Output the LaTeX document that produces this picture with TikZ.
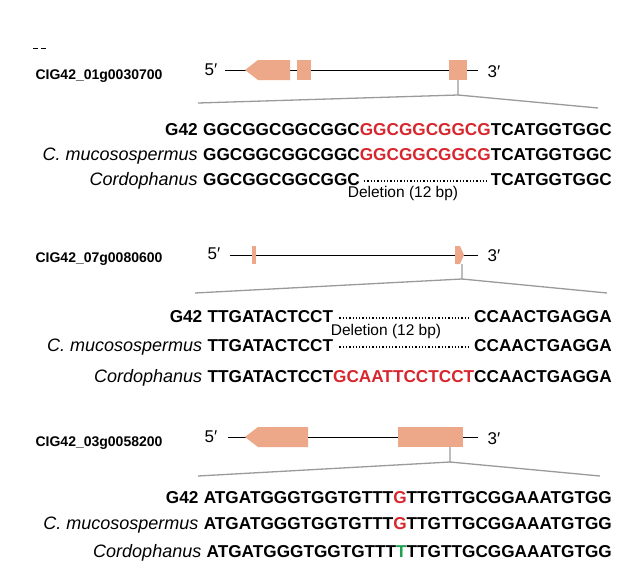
\documentclass[tikz,border=0pt]{standalone}
\usepackage{fontspec}
\setmainfont{Liberation Sans}
\usetikzlibrary{positioning}
\definecolor{exon}{HTML}{EDA789}
\definecolor{zoomgray}{HTML}{9A9A9A}
\definecolor{snpred}{HTML}{D7262E}
\definecolor{snpgreen}{HTML}{1FA050}
\tikzset{
  gene/.style={font=\bfseries\fontsize{14}{16}\selectfont, anchor=east},
  prime/.style={font=\fontsize{17}{19}\selectfont},
  seq/.style={font=\bfseries\fontsize{17.2}{19}\selectfont, inner sep=0pt},
  species/.style={font=\itshape\fontsize{18}{20}\selectfont, inner sep=0pt, anchor=base east},
  strain/.style={font=\bfseries\fontsize{17.2}{19}\selectfont, inner sep=0pt, anchor=base east},
  exonbox/.style={fill=exon, draw=none},
  zoomline/.style={draw=zoomgray, line width=1.3pt},
  gap/.style={dotted, line width=1.3pt},
  note/.style={font=\fontsize{15.5}{17}\selectfont, inner sep=0pt}
}
\begin{document}
\begin{tikzpicture}[x=1pt, y=-1pt]
\useasboundingbox (0,0) rectangle (624,587);
\draw[line width=1pt] (33,48) -- (38,48) (41,48) -- (46,48);
% first gene
\node[gene] (g1) at (166,76) {CIG42\_01g0030700};
\node[prime] (f1) at (211,70) {5′};
\node[prime] (t1) at (494,72) {3′};
\draw[line width=1pt] (225,70) coordinate (l1) -- (478,70) coordinate (r1);
\draw[exonbox] (245,70) -- (258,60) -- (290,60) -- (290,80) -- (258,80) -- cycle;
\fill[exon] (297,60) rectangle (311,80);
\fill[exon] (449,60) rectangle (467,80);
\coordinate (s1) at (458,80);
\coordinate (k1) at (458,95);
\draw[zoomline] (s1) -- (k1) -- (198,103);
\draw[zoomline] (k1) -- (598,108);
\node[seq, anchor=base east] (q1) at (612,135) {GGCGGCGGCGGC\textcolor{snpred}{GGCGGCGGCG}TCATGGTGGC};
\node[strain] (a1) at ([xshift=-5pt]q1.base west) {G42};
\node[seq, anchor=base east] (q2) at (612,160) {GGCGGCGGCGGC\textcolor{snpred}{GGCGGCGGCG}TCATGGTGGC};
\node[species] (b1) at ([xshift=-5pt]q2.base west) {C. mucosospermus};
\node[seq, anchor=base west] (q3l) at (q2.base west |- 0,185) {GGCGGCGGCGGC};
\node[species] (c1) at ([xshift=-5pt]q3l.base west) {Cordophanus};
\node[seq, anchor=base east] (q3r) at (612,185) {TCATGGTGGC};
\draw[gap] ([xshift=4pt,yshift=4pt]q3l.base east) -- ([xshift=-4pt,yshift=4pt]q3r.base west);
\node[note] (d1) at (403,193) {Deletion (12 bp)};
% second gene
\node[gene] (g2) at (166,259) {CIG42\_07g0080600};
\node[prime] (f2) at (214,254) {5′};
\node[prime] (t2) at (494,256) {3′};
\draw[line width=1pt] (230,255) coordinate (l2) -- (478,255) coordinate (r2);
\fill[exon] (252,246) rectangle (256,264);
\draw[exonbox] (455,246) -- (460,246) -- (464,255) -- (460,264) -- (455,264) -- cycle;
\coordinate (s2) at (462,264);
\coordinate (k2) at (462,279);
\draw[zoomline] (s2) -- (k2) -- (195,293);
\draw[zoomline] (k2) -- (607,293);
\node[seq, anchor=base east] (p3) at (612,382) {TTGATACTCCT\textcolor{snpred}{GCAATTCCTCCT}CCAACTGAGGA};
\node[species] (c2) at ([xshift=-5pt]p3.base west) {Cordophanus};
\node[seq, anchor=base west] (p1l) at (p3.base west |- 0,322) {TTGATACTCCT};
\node[strain] (a2) at ([xshift=-5pt]p1l.base west) {G42};
\node[seq, anchor=base east] (p1r) at (612,322) {CCAACTGAGGA};
\draw[gap] ([xshift=6pt,yshift=4pt]p1l.base east) -- ([xshift=-4pt,yshift=4pt]p1r.base west);
\node[note] (d2) at (386,331) {Deletion (12 bp)};
\node[seq, anchor=base west] (p2l) at (p3.base west |- 0,351) {TTGATACTCCT};
\node[species] (b2) at ([xshift=-5pt]p2l.base west) {C. mucosospermus};
\node[seq, anchor=base east] (p2r) at (612,351) {CCAACTGAGGA};
\draw[gap] ([xshift=6pt,yshift=4pt]p2l.base east) -- ([xshift=-4pt,yshift=4pt]p2r.base west);
% third gene
\node[gene] (g3) at (166,443) {CIG42\_03g0058200};
\node[prime] (f3) at (211,437) {5′};
\node[prime] (t3) at (494,439) {3′};
\draw[line width=1pt] (228,437) coordinate (l3) -- (478,437) coordinate (r3);
\draw[exonbox] (245,437) -- (258,427) -- (308,427) -- (308,447) -- (258,447) -- cycle;
\fill[exon] (398,427) rectangle (463,447);
\coordinate (s3) at (450,447);
\coordinate (k3) at (450,462);
\draw[zoomline] (s3) -- (k3) -- (198,476);
\draw[zoomline] (k3) -- (600,476);
\node[seq, anchor=base east] (r31) at (612,503) {ATGATGGGTGGTGTTT\textcolor{snpred}{G}TTGTTGCGGAAATGTGG};
\node[strain] (a3) at ([xshift=-5pt]r31.base west) {G42};
\node[seq, anchor=base east] (r32) at (612,529) {ATGATGGGTGGTGTTT\textcolor{snpred}{G}TTGTTGCGGAAATGTGG};
\node[species] (b3) at ([xshift=-5pt]r32.base west) {C. mucosospermus};
\node[seq, anchor=base east] (r33) at (612,557) {ATGATGGGTGGTGTTT\textcolor{snpgreen}{T}TTGTTGCGGAAATGTGG};
\node[species] (c3) at ([xshift=-5pt]r33.base west) {Cordophanus};
\end{tikzpicture}
\end{document}
